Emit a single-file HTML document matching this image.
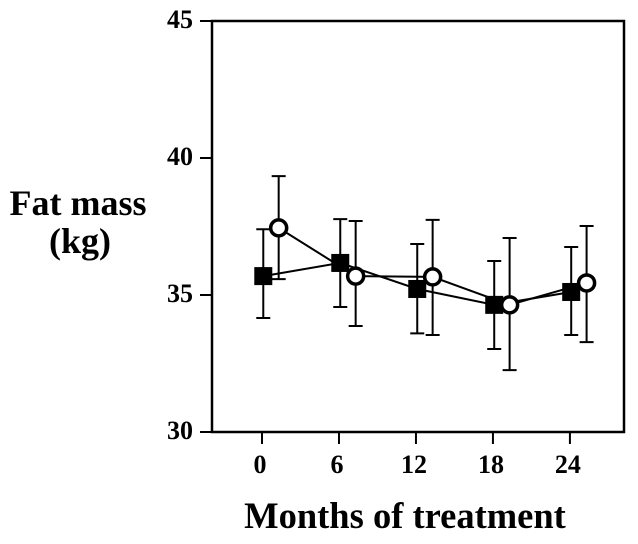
<!DOCTYPE html>
<html><head><meta charset="utf-8"><style>
html,body{margin:0;padding:0;background:#fff;}
svg{display:block;font-family:"Liberation Serif",serif;font-weight:bold;}
</style></head><body>
<svg id="chart" width="638" height="544">
<g id="axes"></g>
<g id="marks"></g>
<text x="78" y="215" font-size="36" text-anchor="middle">Fat mass</text>
<text x="80" y="253" font-size="36" text-anchor="middle">(kg)</text>
<text x="405" y="528" font-size="36.5" text-anchor="middle">Months of treatment</text>
</svg>
<script>
const months=[0,6,12,18,24];
const xTicks=["0","6","12","18","24"];
const yTicks=[30,35,40,45];
const sqMean=[35.69,36.17,35.22,34.64,35.11];
const sqHi=[37.4,37.77,36.86,36.24,36.75];
const sqLo=[34.16,34.56,33.6,33.03,33.54];
const ciMean=[37.45,35.69,35.66,34.64,35.44];
const ciHi=[39.34,37.7,37.74,37.08,37.52];
const ciLo=[35.58,33.87,33.54,32.26,33.28];
const NS="http://www.w3.org/2000/svg";
const X=m=>262+m*12.83, Y=v=>432-(v-30)*27.4;
function mk(p,t,a){const e=document.createElementNS(NS,t);for(const k in a)e.setAttribute(k,a[k]);p.appendChild(e);return e;}
const ax=document.getElementById('axes'), mg=document.getElementById('marks');
let r=mk(ax,'rect',{x:212,y:21,width:412,height:411,fill:'none',stroke:'#000','stroke-width':2.5});


yTicks.forEach(v=>{
 let l=mk(ax,'line',{x1:200,x2:212,y1:Y(v),y2:Y(v),stroke:'#000','stroke-width':2});
 
 
 let t=mk(ax,'text',{x:193,y:Y(v)+7,'font-size':26,'text-anchor':'end'});t.textContent=v;
 
 
});
months.forEach((m,i)=>{
 let l=mk(ax,'line',{x1:X(m),x2:X(m),y1:432,y2:444,stroke:'#000','stroke-width':2});
 
 
 let t=mk(ax,'text',{x:X(m)-2,y:473,'font-size':26,'text-anchor':'middle'});t.textContent=xTicks[i];
 
 
});
function series(mean,hi,lo,off,shape){
 const pts=months.map(m=>X(m+off));
 months.forEach((m,i)=>{
  const x=pts[i];
  let e=mk(mg,'path',{d:`M${x},${Y(hi[i])}V${Y(lo[i])}M${x-7},${Y(hi[i])}H${x+7}M${x-7},${Y(lo[i])}H${x+7}`,stroke:'#000','stroke-width':2,fill:'none'});
  
  
 });
 let pl=mk(mg,'polyline',{points:pts.map((x,i)=>x+','+Y(mean[i])).join(' '),fill:'none',stroke:'#000','stroke-width':2});
 
 
 months.forEach((m,i)=>{
  const x=pts[i],y=Y(mean[i]);let e;
  if(shape==='square') e=mk(mg,'rect',{x:x-9,y:y-9,width:18,height:18,fill:'#000'});
  else e=mk(mg,'circle',{cx:x,cy:y,r:8,fill:'#fff',stroke:'#000','stroke-width':3.5});
  
  
 });
}
series(sqMean,sqHi,sqLo,0.1,'square');
series(ciMean,ciHi,ciLo,1.3,'circle');
</script>
</body></html>
